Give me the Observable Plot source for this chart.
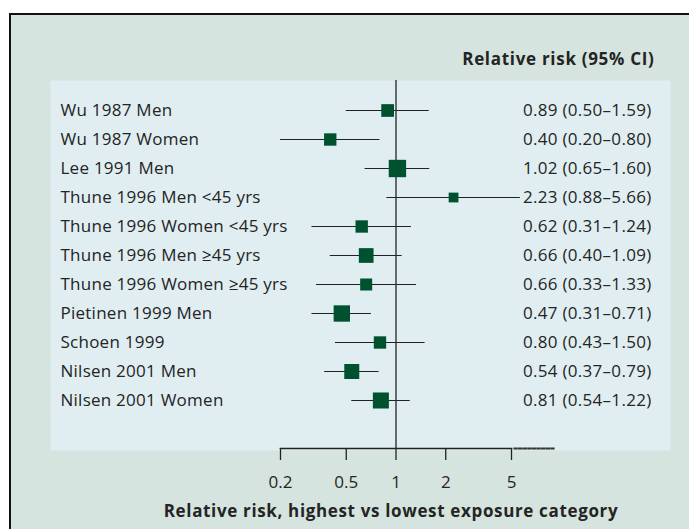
<!DOCTYPE html>
<html>
<head>
<meta charset="utf-8">
<script src="https://cdn.jsdelivr.net/npm/d3@7"></script>
<script src="https://cdn.jsdelivr.net/npm/@observablehq/plot@0.6"></script>
<style>
  html, body { margin: 0; padding: 0; background: #ffffff; width: 689px; height: 529px; overflow: hidden; }
  #outer { position: absolute; left: 9px; top: 13px; width: 690px; height: 530px;
           border-left: 2px solid #111; border-top: 2px solid #111; background: #d5e4de; }
  #chart { position: absolute; left: 0; top: 0; }
  #chart svg { background: transparent; }
</style>
</head>
<body>
<div id="outer"></div>
<div id="chart"></div>
<script>
const studies = [
  "Wu 1987 Men", "Wu 1987 Women", "Lee 1991 Men", "Thune 1996 Men <45 yrs",
  "Thune 1996 Women <45 yrs", "Thune 1996 Men \u226545 yrs", "Thune 1996 Women \u226545 yrs",
  "Pietinen 1999 Men", "Schoen 1999", "Nilsen 2001 Men", "Nilsen 2001 Women"
];
const rr    = [0.89, 0.40, 1.02, 2.23, 0.62, 0.66, 0.66, 0.47, 0.80, 0.54, 0.81];
const lower = [0.50, 0.20, 0.65, 0.88, 0.31, 0.40, 0.33, 0.31, 0.43, 0.37, 0.54];
const upper = [1.59, 0.80, 1.60, 5.66, 1.24, 1.09, 1.33, 0.71, 1.50, 0.79, 1.22];
const weights = [7.6, 7.2, 14.2, 4.5, 7.2, 10.2, 6.8, 12.6, 7.2, 10.6, 12.1];
const tickValues = [0.2, 0.5, 1, 2, 5];
const tickLabels = ["0.2", "0.5", "1", "2", "5"];
const header = "Relative risk (95% CI)";
const axisTitle = "Relative risk, highest vs lowest exposure category";

const fmt = v => v.toFixed(2);
const rows = studies.map((s, i) => ({
  study: s, rr: rr[i], lo: lower[i], hi: upper[i], w: weights[i],
  label: `${fmt(rr[i])} (${fmt(lower[i])}\u2013${fmt(upper[i])})`
}));

const font = "'Open Sans', 'Noto Sans', sans-serif";
const ink = "#242424";

const chart = Plot.plot({
  width: 689,
  height: 529,
  marginLeft: 280,
  marginRight: 178,
  marginTop: 80,
  marginBottom: 81,
  style: { fontFamily: font, fontSize: "17px", color: ink, background: "transparent" },
  x: { type: "log", domain: [0.2, 5], axis: null },
  y: { type: "point", domain: studies, range: [109, 400], padding: 0, axis: null },
  r: { type: "sqrt", domain: [0, 14.2], range: [0, 9.8] },
  marks: [
    // inner panel
    Plot.frame({ fill: "#e0eef1", stroke: null, insetLeft: -230, insetRight: -159, insetBottom: -2 }),
    // reference line at RR = 1
    Plot.ruleX([1], { stroke: "#222", strokeWidth: 1.3 }),
    // axis line + dotted extension
    Plot.frame({ anchor: "bottom", stroke: "#222", strokeWidth: 1.6 }),
    Plot.frame({ anchor: "bottom", stroke: "#333", strokeWidth: 2.2, strokeDasharray: "2.2,2.4", insetLeft: 234, insetRight: -44 }),
    Plot.axisX({ ticks: tickValues, tickFormat: (d) => tickLabels[tickValues.indexOf(d)],
                 tickSize: 12, tickPadding: 15, stroke: "#222", strokeWidth: 1.3,
                 fontSize: 17, fill: ink, label: null }),
    // CIs
    Plot.ruleY(rows, { y: "study", x1: "lo", x2: "hi", stroke: "#222", strokeWidth: 1.2 }),
    // point estimates
    Plot.dot(rows, { x: "rr", y: "study", r: "w", symbol: "square", fill: "#00512f", stroke: null }),
    // study labels
    Plot.text(rows, { y: "study", text: "study", frameAnchor: "left", textAnchor: "start", dx: -220,
                      fontSize: 17, fill: ink }),
    // values
    Plot.text(rows, { y: "study", text: "label", frameAnchor: "right", textAnchor: "end", dx: 140,
                      fontSize: 17, fill: ink }),
    // header
    Plot.text([header], { frameAnchor: "top-right", textAnchor: "end", lineAnchor: "middle", dx: 143, dy: -21,
                          fontSize: 17, fontWeight: "bold", fill: ink }),
    // axis title
    Plot.text([axisTitle], { frameAnchor: "bottom", lineAnchor: "middle", dx: -5, dy: 63,
                             fontSize: 17, fontWeight: "bold", fill: ink })
  ]
});

// letter spacing per text mark (labels, values, header, axis title)
const spacing = ["0.25px", "0.3px", "0.7px", "0.65px"];
d3.select(chart).selectAll('g[aria-label="text"]').each(function (_, i) {
  if (spacing[i]) this.style.letterSpacing = spacing[i];
});
document.getElementById("chart").appendChild(chart);
</script>
</body>
</html>
